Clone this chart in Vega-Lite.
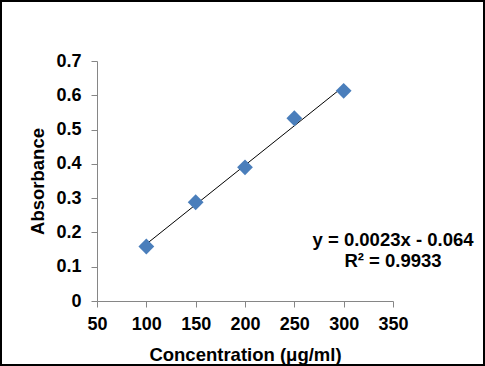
{
  "$schema": "https://vega.github.io/schema/vega-lite/v6.json",
  "width": 485,
  "height": 366,
  "autosize": "none",
  "padding": 0,
  "background": "white",
  "config": {
    "view": {"stroke": "black", "strokeWidth": 4},
    "font": "Liberation Sans",
    "axis": {
      "grid": false,
      "domainColor": "#868686",
      "tickColor": "#868686",
      "tickSize": 6,
      "labelFlush": false,
      "labelFont": "Liberation Sans",
      "labelFontWeight": "bold",
      "labelFontSize": 18,
      "labelColor": "black",
      "titleFont": "Liberation Sans",
      "titleFontWeight": "bold",
      "titleFontSize": 18.5,
      "titleColor": "black"
    }
  },
  "datasets": {
    "pts": [
      {"conc": 100, "abs": 0.159},
      {"conc": 150, "abs": 0.288},
      {"conc": 200, "abs": 0.39},
      {"conc": 250, "abs": 0.533},
      {"conc": 300, "abs": 0.613}
    ],
    "trend": [
      {"conc": 100, "abs": 0.166},
      {"conc": 300, "abs": 0.626}
    ],
    "eq": [
      {"conc": 350, "abs": 0.177, "label": "y = 0.0023x - 0.064"},
      {"conc": 350, "abs": 0.118, "label": "R² = 0.9933"}
    ]
  },
  "layer": [
    {
      "data": {"name": "trend"},
      "mark": {"type": "line", "color": "black", "strokeWidth": 1},
      "encoding": {
        "x": {
          "field": "conc", "type": "quantitative",
          "scale": {"domain": [50, 350], "range": [97, 393], "nice": false, "zero": false},
          "axis": {
            "values": [50, 100, 150, 200, 250, 300, 350],
            "offset": -65,
            "labelPadding": 8,
            "title": "Concentration (μg/ml)",
            "titlePadding": 12
          }
        },
        "y": {
          "field": "abs", "type": "quantitative",
          "scale": {"domain": [0, 0.7], "range": [301, 61], "nice": false},
          "axis": {
            "values": [0, 0.1, 0.2, 0.3, 0.4, 0.5, 0.6, 0.7],
            "format": ".1~f",
            "offset": -97,
            "labelPadding": 10,
            "title": "Absorbance",
            "titlePadding": 8
          }
        }
      }
    },
    {
      "data": {"name": "pts"},
      "mark": {"type": "point", "shape": "diamond", "filled": true, "size": 250, "color": "#4A7EBB", "opacity": 1},
      "encoding": {
        "x": {"field": "conc", "type": "quantitative"},
        "y": {"field": "abs", "type": "quantitative"}
      }
    },
    {
      "data": {"name": "eq"},
      "mark": {"type": "text", "font": "Liberation Sans", "fontWeight": "bold", "fontSize": 18.5, "align": "center", "baseline": "middle", "color": "black"},
      "encoding": {
        "x": {"field": "conc", "type": "quantitative"},
        "y": {"field": "abs", "type": "quantitative"},
        "text": {"field": "label"}
      }
    }
  ]
}
